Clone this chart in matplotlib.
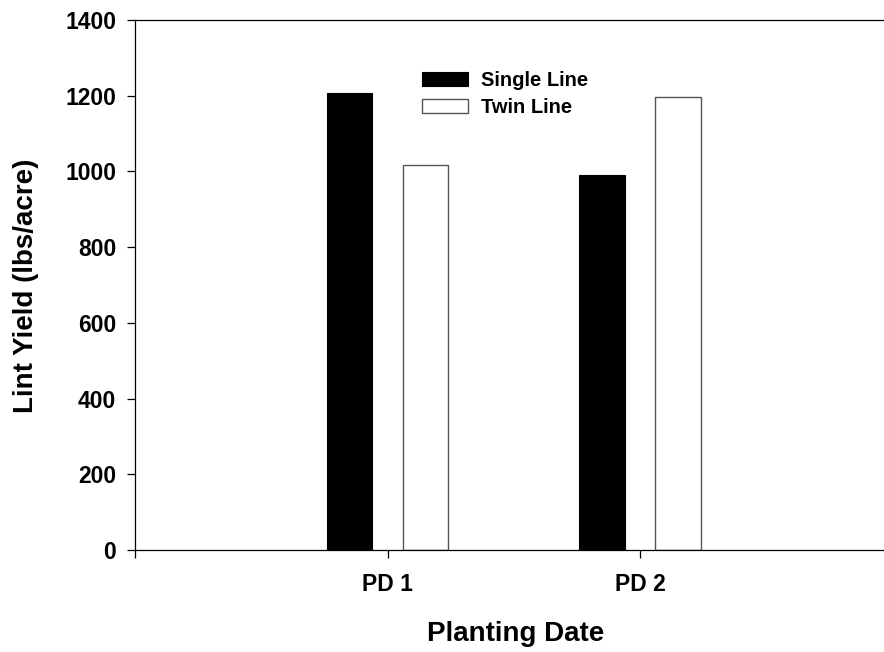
import matplotlib
matplotlib.use("Agg")
import matplotlib.pyplot as plt
import numpy as np

plt.rcParams['font.family'] = ['Liberation Sans', 'DejaVu Sans']
plt.rcParams['font.weight'] = 'bold'

# Data
dates = ['PD 1', 'PD 2']
single_line = [1206, 990]
twin_line = [1016, 1196]
y_ticks = [0, 200, 400, 600, 800, 1000, 1200, 1400]

fig = plt.figure(figsize=(8.84, 6.52), dpi=100)
W, H = 884, 652
# axes extend a bit beyond the right edge (chart is cropped there)
ax = fig.add_axes([135 / W, 102 / H, 757.5 / W, 530 / H])

x = np.arange(1, len(dates) + 1)
bw = 0.18
ax.bar(x - 0.15, single_line, bw, color='black', edgecolor='black',
       linewidth=0.8, label='Single Line')
ax.bar(x + 0.15, twin_line, bw, color='white', edgecolor='#555555',
       linewidth=1.0, label='Twin Line')

ax.set_xlim(0, 3)
ax.set_ylim(0, 1400)
ax.set_yticks(y_ticks)
ax.set_xticks([0, 1, 2, 3])
ax.set_xticklabels([''] + dates + [''])

ax.spines['right'].set_visible(False)
for s in ['left', 'bottom', 'top']:
    ax.spines[s].set_linewidth(0.9)
ax.tick_params(axis='both', direction='out', length=5.5, width=0.9,
               labelsize=16.5)
ax.tick_params(axis='x', pad=11)
ax.tick_params(axis='y', pad=8)

leg = ax.legend(loc='upper left', bbox_to_anchor=(421.7 / W, 1 - 71 / H),
                bbox_transform=fig.transFigure, frameon=False,
                fontsize=14.5, handlelength=2.3, handleheight=0.75,
                handletextpad=0.65, labelspacing=0.4, borderpad=0,
                borderaxespad=0)

fig.text(516 / W, 1 - 634 / H, 'Planting Date', ha='center', va='center',
         fontsize=20, fontweight='bold')
fig.text(26 / W, 1 - 286 / H, 'Lint Yield (lbs/acre)', ha='center',
         va='center', rotation=90, fontsize=20, fontweight='bold')

fig.savefig('out.png', dpi=100)
